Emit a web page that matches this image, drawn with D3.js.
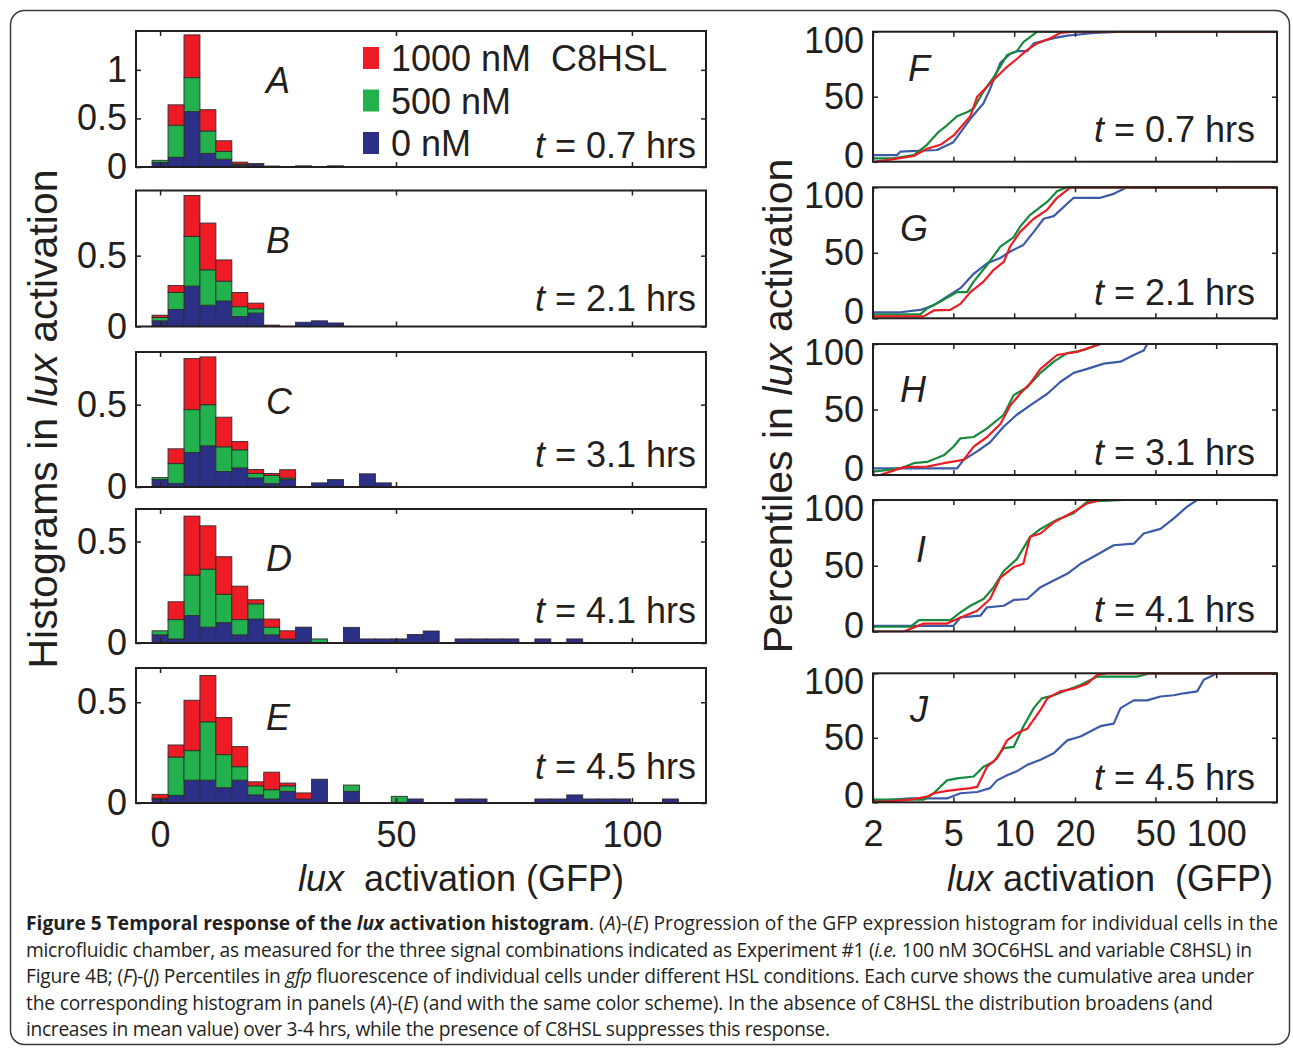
<!DOCTYPE html>
<html>
<head>
<meta charset="utf-8">
<script src="https://cdn.jsdelivr.net/npm/d3@7"></script>
<style>
  body { margin: 0; background: #fff; }
  text { font-family: "Liberation Sans", Arial, sans-serif; fill: #231f20; }
  text.cap { font-family: "Open Sans", sans-serif; }
  .pre { white-space: pre; }
</style>
</head>
<body>
<svg id="fig" width="1293" height="1048"></svg>
<script>
// ---- data ----
const binWidth = 3.38;   // GFP units per histogram bin, bin k centred on k*binWidth
const seriesKeys = ["n0", "n500", "n1000"];
const legendLabels = ["1000 nM  C8HSL", "500 nM", "0 nM"];
const histLetters = ["A", "B", "C", "D", "E"];
const cdfLetters = ["F", "G", "H", "I", "J"];
const times = ["0.7", "2.1", "3.1", "4.1", "4.5"];
const histYMax = [1.4, 0.96, 0.82, 0.66, 0.67];
const histXTicks = [0, 50, 100];
const cdfXTicks = [2, 5, 10, 20, 50, 100];
const cdfYTicks = [0, 50, 100];

// histogram heights per bin (0 nM / 500 nM / 1000 nM C8HSL)
const A_0 = [.045, .10, .57, .14, .08, .02, .03, 0, 0, 0, 0, .012];
const A_500 = [.024, .33, .35, .23, .08, .01, 0, 0, 0, 0, 0, 0];
const A_1000 = [0, .21, .44, .22, .11, .02, .005, .01, 0, .012, 0, 0];

const B_0 = [.04, .12, .285, .15, .18, .07, .095, 0, 0, .03, .04, .025];
const B_500 = [.024, .12, .35, .25, .14, .07, .03, 0, 0, 0, 0, 0];
const B_1000 = [.016, .05, .29, .33, .15, .10, .04, .01, 0, 0, 0, 0];

const C_0 = [.045, .022, .21, .25, .094, .116, .055, .02, .045, 0, .025, .045, 0, .08, .025];
const C_500 = [.012, .12, .26, .25, .15, .11, .027, .05, .01, 0, 0, 0, 0, 0, 0];
const C_1000 = [0, .09, .31, .29, .18, .05, .024, .012, .05, 0, 0, 0, 0, 0, 0];

const D_0 = [.04, .02, .135, .078, .10, .04, .118, .04, .02, .078, 0, 0, .077, .02, .02, .02, .042, .059, 0, .02, .02, .02, .02, 0, .02, 0, .02];
const D_500 = [.02, .095, .20, .286, .14, .075, .075, .038, 0, 0, .02];
const D_1000 = [0, .088, .29, .213, .185, .165, .02, .04, .04];

const E_0 = [.02, .038, .113, .113, .076, .113, .04, .02, .058, .02, .118, 0, .058, 0, 0, .003, .02, 0, 0, .02, .02, 0, 0, 0, .02, .02, .04, .02, .02, .02, 0, 0, .02];
const E_500 = [.003, .19, .147, .29, .164, .067, .045, .046, .027, 0, 0, 0, .031, 0, 0, .03];
const E_1000 = [.02, .06, .25, .23, .184, .10, .02, .087, .014, .03];

// percentile curves: [GFP, percent]
const F_0 = [[2, 5], [2.63, 5], [2.73, 7.7], [4.15, 9], [5.0, 15], [6.07, 33], [7.05, 45], [7.6, 56], [8.54, 76], [9.56, 83], [10.3, 85], [11.6, 85], [12.5, 91], [15.7, 95], [18.3, 97], [24.8, 99], [34.9, 100], [200, 100]];
const F_500 = [[2, 2.6], [2.53, 2.6], [3.18, 5], [3.70, 13], [4.23, 23], [4.65, 28], [5.21, 35], [5.84, 38], [6.3, 41], [7.05, 54], [7.92, 65], [9.22, 82], [10.3, 85], [11.1, 92], [13.0, 100], [200, 100]];
const F_1000 = [[2.05, 0], [2.53, 2], [3.18, 4.4], [3.70, 10], [4.31, 13], [5.0, 20], [6.07, 35], [6.56, 50], [7.92, 63], [9.22, 73], [10.3, 79], [11.6, 86], [13.0, 91], [15.1, 95], [16.9, 99], [19.7, 100], [200, 100]];

const G_0 = [[2, 4.6], [2.73, 4.6], [3.43, 6.4], [4.0, 10], [4.65, 16.5], [5.42, 23], [6.3, 34], [7.34, 42], [8.54, 46], [9.56, 51], [11.1, 56], [12.5, 66], [14.0, 76], [15.7, 78], [19.7, 92], [26.7, 92], [31.1, 95], [36.2, 100], [200, 100]];
const G_500 = [[2, 3], [3.43, 3], [3.70, 7.6], [4.31, 12.7], [5.21, 20], [5.84, 20], [6.3, 28], [7.34, 40.7], [8.54, 54.7], [9.95, 62], [10.7, 70], [12.0, 79], [14.6, 89], [16.3, 97], [18.3, 100], [200, 100]];
const G_1000 = [[2, 1.5], [3.56, 1.5], [4.0, 6], [4.83, 6.5], [5.42, 11], [6.07, 20], [7.05, 28], [7.92, 37], [8.88, 43], [9.56, 55], [10.7, 66], [12.5, 76], [14.6, 83], [16.3, 92], [19.0, 100], [200, 100]];

const H_0 = [[2, 5], [5.21, 5], [5.62, 11.5], [6.56, 18], [7.6, 25], [8.88, 37], [10.3, 46], [12.5, 55], [14.6, 62], [16.9, 71], [19.7, 78], [23.0, 81], [27.8, 85], [33.6, 86.5], [39.1, 91.6], [43.8, 95], [45.5, 100], [200, 100]];
const H_500 = [[2, 2.5], [2.73, 5], [3.18, 9], [3.70, 10], [4.48, 15], [5.0, 21.6], [5.42, 28], [6.3, 29], [7.34, 35.6], [8.88, 46], [9.95, 61], [11.6, 67], [13.5, 78], [15.7, 86.5], [18.3, 93], [22.1, 95.4], [26.7, 100], [200, 100]];
const H_1000 = [[2.17, 0], [2.84, 6], [3.70, 6.4], [4.48, 9], [5.62, 11.5], [6.3, 21.6], [7.34, 29], [8.54, 39], [9.56, 53], [10.7, 62], [12.0, 70], [13.5, 81], [16.3, 91.6], [20.5, 94], [26.7, 100], [200, 100]];

const I_0 = [[2, 4.3], [5.0, 4.3], [5.42, 10.7], [6.8, 12], [7.34, 18.4], [8.88, 19.6], [9.95, 24], [11.6, 24.7], [13.5, 33.7], [15.7, 38.8], [18.3, 43.9], [21.3, 51.5], [24.8, 57], [31.1, 65.6], [39.1, 66.8], [43.8, 74.5], [53, 78], [61.7, 86], [71.8, 95], [80.5, 100], [200, 100]];
const I_500 = [[2, 3.6], [3.06, 3.6], [3.37, 8.7], [4.83, 8.7], [5.42, 14.5], [6.07, 19.6], [7.05, 24.7], [7.92, 33.7], [8.88, 46], [10.3, 55], [12.0, 72], [13.5, 78], [16.3, 85], [19.7, 90], [23.0, 98.7], [34.9, 100], [200, 100]];
const I_1000 = [[2, 0], [2.84, 0], [3.56, 6], [4.65, 6], [5.42, 10.7], [6.56, 15.8], [7.6, 24.7], [8.54, 41], [9.95, 49], [11.1, 51.5], [12.0, 72], [13.5, 74.5], [15.7, 83], [19.7, 91], [23.0, 97.4], [26.7, 100], [200, 100]];

const J_0 = [[2, 1], [3.06, 3], [4.65, 3], [5.42, 7], [6.56, 8], [7.6, 11], [8.22, 17], [9.22, 21], [10.3, 24], [11.6, 29], [13.5, 33], [15.7, 38], [18.3, 48], [21.3, 51], [23.9, 55], [26.7, 59], [31.1, 61], [33.6, 73], [39.1, 79], [45.5, 79], [53, 82], [61.7, 83], [69.1, 84.5], [80.5, 86], [86.8, 95], [101, 100], [200, 100]];
const J_500 = [[2, 2], [3.56, 2], [4.0, 7], [4.31, 12], [4.65, 17], [5.21, 18.6], [6.3, 20], [7.05, 27.6], [7.92, 31.5], [8.88, 42], [9.95, 43], [11.1, 58.7], [12.5, 73], [13.7, 80.6], [15.7, 83], [18.3, 87], [21.3, 91], [25.7, 97.4], [40.6, 97.4], [47.3, 100], [200, 100]];
const J_1000 = [[2, 0.5], [2.35, 0.5], [3.06, 2], [3.70, 4.4], [4.0, 7], [4.65, 8.8], [6.07, 11], [6.56, 12], [7.34, 27.6], [8.22, 34], [9.22, 48], [10.3, 53.5], [11.6, 57], [13.5, 71.6], [14.6, 80.6], [16.9, 86], [19.7, 88], [23.0, 92], [25.7, 98.7], [28.8, 100], [200, 100]];

const histSets = [[A_0, A_500, A_1000], [B_0, B_500, B_1000], [C_0, C_500, C_1000], [D_0, D_500, D_1000], [E_0, E_500, E_1000]];
const cdfSets = [[F_0, F_500, F_1000], [G_0, G_500, G_1000], [H_0, H_500, H_1000], [I_0, I_500, I_1000], [J_0, J_500, J_1000]];

// ---- layout ----
const barColor = { n0: "#2b2f86", n500: "#22b14c", n1000: "#ed1c24" };
const lineColor = ["#3b5aa8", "#17893b", "#ec1c24"];
const ink = "#231f20";
const histTop = [31, 190.5, 352, 509, 668];
const histH = [136, 136, 135, 134, 135];
const histTimeY = [158, 311, 467, 623, 779];
const cdfTop = [31.7, 187.3, 344, 500, 673.3];
const cdfH = [130, 131, 131, 131.5, 129];

const svg = d3.select("#fig");

// outer rounded border
svg.append("rect")
  .attr("x", 10.5).attr("y", 10.5)
  .attr("width", 1279).attr("height", 1034)
  .attr("rx", 14)
  .attr("fill", "none").attr("stroke", "#3a3a3a").attr("stroke-width", 1.5);

function styleAxis(g, size) {
  g.select(".domain").remove();
  g.attr("font-size", size).attr("font-family", null);
  g.selectAll("line").attr("stroke", ink).attr("stroke-width", 1.5);
}

// ---- histograms ----
const xh = d3.scaleLinear().domain([-5.1, 115.7]).range([136, 706]);

histSets.forEach((set, i) => {
  const top = histTop[i], h = histH[i];
  const y = d3.scaleLinear().domain([0, histYMax[i]]).range([top + h, top]);
  const n = d3.max(set, s => s.length);
  const rows = d3.range(n).map(k => ({
    k: k, n0: set[0][k] || 0, n500: set[1][k] || 0, n1000: set[2][k] || 0
  }));
  const layers = d3.stack().keys(seriesKeys)(rows);
  const g = svg.append("g");

  layers.forEach(layer => {
    g.selectAll(null)
      .data(layer.filter(d => d[1] - d[0] > 0))
      .join("rect")
      .attr("x", d => xh(d.data.k * binWidth - binWidth / 2))
      .attr("width", xh(binWidth) - xh(0))
      .attr("y", d => y(d[1]))
      .attr("height", d => y(d[0]) - y(d[1]))
      .attr("fill", barColor[layer.key])
      .attr("stroke", "#2e2e2e")
      .attr("stroke-width", 0.9);
  });

  const yTicks = i === 0 ? [0, 0.5, 1] : [0, 0.5];

  svg.append("g").attr("transform", "translate(0," + (top + h) + ")")
    .call(d3.axisBottom(xh).tickValues(histXTicks).tickSizeInner(-5).tickSizeOuter(0)
      .tickPadding(18).tickFormat(i === 4 ? d => d : ""))
    .call(g => styleAxis(g, 36));
  svg.append("g").attr("transform", "translate(0," + top + ")")
    .call(d3.axisTop(xh).tickValues(histXTicks).tickSizeInner(-5).tickSizeOuter(0).tickFormat(""))
    .call(g => styleAxis(g, 36));
  svg.append("g").attr("transform", "translate(136,0)")
    .call(d3.axisLeft(y).tickValues(yTicks).tickSizeInner(-5).tickSizeOuter(0).tickPadding(9)
      .tickFormat(d => String(d)))
    .call(g => styleAxis(g, 36));
  svg.append("g").attr("transform", "translate(706,0)")
    .call(d3.axisRight(y).tickValues(yTicks).tickSizeInner(-5).tickSizeOuter(0).tickFormat(""))
    .call(g => styleAxis(g, 36));

  svg.append("rect")
    .attr("x", 136).attr("y", top).attr("width", 570).attr("height", h)
    .attr("fill", "none").attr("stroke", ink).attr("stroke-width", 2);

  // panel letter and time
  svg.append("text")
    .attr("x", 266).attr("y", top + 62)
    .attr("font-size", 36).attr("font-style", "italic")
    .text(histLetters[i]);
  const t = svg.append("text")
    .attr("x", 696).attr("y", histTimeY[i])
    .attr("font-size", 36).attr("text-anchor", "end");
  t.append("tspan").attr("font-style", "italic").text("t");
  t.append("tspan").text(" = " + times[i] + " hrs");
});

// legend
["n1000", "n500", "n0"].forEach((key, j) => {
  svg.append("rect")
    .attr("x", 363).attr("y", 47 + j * 42.5)
    .attr("width", 16).attr("height", 22)
    .attr("fill", barColor[key]);
  svg.append("text")
    .attr("class", "pre")
    .attr("x", 391).attr("y", 71 + j * 42.5)
    .attr("font-size", 36)
    .text(legendLabels[j]);
});

// ---- percentile curves ----
const xc = d3.scaleLog().domain([2, 200]).range([873, 1277]);

cdfSets.forEach((set, i) => {
  const top = cdfTop[i], h = cdfH[i];
  const y = d3.scaleLinear().domain([0, 100]).range([top + h, top]);

  svg.append("clipPath").attr("id", "clip" + i)
    .append("rect").attr("x", 873).attr("y", top - 1).attr("width", 404).attr("height", h + 2);

  const line = d3.line().x(d => xc(d[0])).y(d => y(d[1]));
  set.forEach((pts, s) => {
    svg.append("path")
      .attr("clip-path", "url(#clip" + i + ")")
      .attr("d", line(pts))
      .attr("fill", "none")
      .attr("stroke", lineColor[s])
      .attr("stroke-width", 2.2)
      .attr("stroke-linejoin", "round");
  });

  svg.append("g").attr("transform", "translate(0," + (top + h) + ")")
    .call(d3.axisBottom(xc).tickValues(cdfXTicks).tickSizeInner(-5).tickSizeOuter(0)
      .tickPadding(18).tickFormat(i === 4 ? d => d : ""))
    .call(g => styleAxis(g, 36));
  svg.append("g").attr("transform", "translate(0," + top + ")")
    .call(d3.axisTop(xc).tickValues(cdfXTicks).tickSizeInner(-5).tickSizeOuter(0).tickFormat(""))
    .call(g => styleAxis(g, 36));
  svg.append("g").attr("transform", "translate(873,0)")
    .call(d3.axisLeft(y).tickValues(cdfYTicks).tickSizeInner(-5).tickSizeOuter(0).tickPadding(9)
      .tickFormat(d => d))
    .call(g => styleAxis(g, 36))
    // end labels sit slightly inside the axis, as in the original
    .call(g => g.selectAll(".tick text").attr("y", d => d === 100 ? 9 : d === 0 ? -6 : 0));
  svg.append("g").attr("transform", "translate(1277,0)")
    .call(d3.axisRight(y).tickValues(cdfYTicks).tickSizeInner(-5).tickSizeOuter(0).tickFormat(""))
    .call(g => styleAxis(g, 36));

  svg.append("rect")
    .attr("x", 873).attr("y", top).attr("width", 404).attr("height", h)
    .attr("fill", "none").attr("stroke", ink).attr("stroke-width", 2);

  const lx = [908, 900, 900, 916, 910];
  const ly = [81, 241, 402, 562, 722];
  const tb = [142, 305, 465, 622, 790];
  svg.append("text")
    .attr("x", lx[i]).attr("y", ly[i])
    .attr("font-size", 36).attr("font-style", "italic")
    .text(cdfLetters[i]);
  const t = svg.append("text")
    .attr("x", 1255).attr("y", tb[i])
    .attr("font-size", 36).attr("text-anchor", "end");
  t.append("tspan").attr("font-style", "italic").text("t");
  t.append("tspan").text(" = " + times[i] + " hrs");
});

// ---- axis titles ----
function yTitle(x, yc, first) {
  const t = svg.append("text")
    .attr("transform", "translate(" + x + "," + yc + ") rotate(-90)")
    .attr("text-anchor", "middle").attr("font-size", 41).attr("class", "pre");
  t.append("tspan").text(first + " in ");
  t.append("tspan").attr("font-style", "italic").text("lux");
  t.append("tspan").text(" activation");
}
yTitle(57, 419, "Histograms");
yTitle(792, 406, "Percentiles");

function xTitle(xc0, gap1, gap2) {
  const t = svg.append("text")
    .attr("x", xc0).attr("y", 891)
    .attr("text-anchor", "middle").attr("font-size", 36).attr("class", "pre");
  t.append("tspan").attr("font-style", "italic").text("lux");
  t.append("tspan").text(gap1 + "activation" + gap2 + "(GFP)");
}
xTitle(461, "  ", " ");
xTitle(1110, " ", "  ");

// ---- caption ----
const captionLines = [
  [["b", "Figure 5 Temporal response of the "], ["bi", "lux"], ["b", " activation histogram"], ["", ". ("], ["i", "A"], ["", ")-("], ["i", "E"], ["", ") Progression of the GFP expression histogram for individual cells in the"]],
  [["", "microfluidic chamber, as measured for the three signal combinations indicated as Experiment #1 ("], ["i", "i.e."], ["", " 100 nM 3OC6HSL and variable C8HSL) in"]],
  [["", "Figure 4B; ("], ["i", "F"], ["", ")-("], ["i", "J"], ["", ") Percentiles in "], ["i", "gfp"], ["", " fluorescence of individual cells under different HSL conditions. Each curve shows the cumulative area under"]],
  [["", "the corresponding histogram in panels ("], ["i", "A"], ["", ")-("], ["i", "E"], ["", ") (and with the same color scheme). In the absence of C8HSL the distribution broadens (and"]],
  [["", "increases in mean value) over 3-4 hrs, while the presence of C8HSL suppresses this response."]]
];
const captionWidths = [1252, 1226, 1228, 1187, 804];

const capTexts = captionLines.map((parts, li) => {
  const t = svg.append("text").attr("class", "cap pre")
    .attr("x", 26).attr("y", 930 + li * 26.5)
    .attr("font-size", 16);
  parts.forEach(p => {
    const s = t.append("tspan").text(p[1]);
    if (p[0].includes("b")) s.attr("font-weight", "bold");
    if (p[0].includes("i")) s.attr("font-style", "italic");
  });
  return t;
});
// fit the caption font to the first line, then match each line's length
const w0 = capTexts[0].node().getComputedTextLength();
const fs = 16 * 1252 / w0;
capTexts.forEach((t, li) => {
  t.attr("font-size", fs)
    .attr("textLength", captionWidths[li])
    .attr("lengthAdjust", "spacing");
});
</script>
</body>
</html>
